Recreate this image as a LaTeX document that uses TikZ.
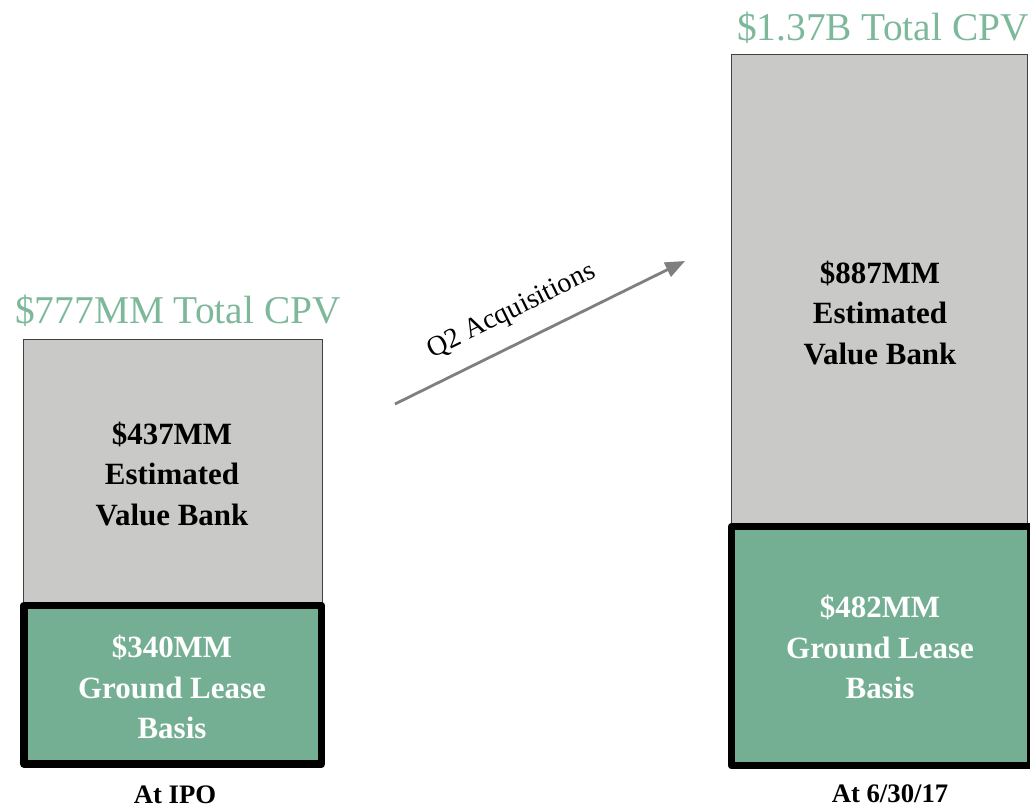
\documentclass[tikz,border=0pt]{standalone}
\usepackage{fontspec}
\setmainfont{Liberation Serif}
\usetikzlibrary{arrows.meta}

\definecolor{cpvgreen}{HTML}{7DB89B}
\definecolor{basisgreen}{HTML}{74AF93}
\definecolor{bankgray}{HTML}{C9C9C7}
\definecolor{arrowgray}{HTML}{7F7F7F}

\tikzset{
  bank/.style={draw=black!75, line width=0.6pt, fill=bankgray, inner sep=0pt},
  basis/.style={draw=black, line width=5.3pt, fill=basisgreen, inner sep=0pt, line join=round},
  total/.style={text=cpvgreen, anchor=base, font=\fontsize{28}{34}\selectfont},
  barlabel/.style={align=center, font=\bfseries\fontsize{22}{29}\selectfont},
  datelabel/.style={anchor=base, font=\bfseries\fontsize{19}{23}\selectfont},
}

\begin{document}
\begin{tikzpicture}[x=0.025cm, y=-0.025cm, >={Triangle[length=14pt, width=11pt]}]
    \useasboundingbox (0,0) rectangle (1030,810);

    % At IPO
    \node[bank, minimum width=7.475cm, minimum height=6.65cm] (bank1) at (172.5, 472) {};
    \node[basis, minimum width=7.44cm, minimum height=3.96cm] (basis1) at (172.75, 684.75) {};
    \node[total] (total1) at (178, 323) {\$777MM Total CPV};
    \node[barlabel] (banktext1) at (172, 474) {\$437MM\\Estimated\\Value Bank};
    \node[barlabel, text=white] (basistext1) at (172, 687) {\$340MM\\Ground Lease\\Basis};
    \node[datelabel] (date1) at (175, 803) {At IPO};

    % At 6/30/17
    \node[bank, minimum width=7.4cm, minimum height=11.775cm] (bank2) at (879, 289.5) {};
    \node[basis, minimum width=7.475cm, minimum height=5.975cm] (basis2) at (881, 646) {};
    \node[total] (total2) at (883, 40) {\$1.37B Total CPV};
    \node[barlabel] (banktext2) at (880, 313) {\$887MM\\Estimated\\Value Bank};
    \node[barlabel, text=white] (basistext2) at (880, 647) {\$482MM\\Ground Lease\\Basis};
    \node[datelabel] (date2) at (890, 802) {At 6/30/17};

    % acquisitions
    \coordinate (acqstart) at (395, 404);
    \coordinate (acqend) at (685, 261);
    \draw[->, arrowgray, line width=2pt] (acqstart) -- (acqend)
        node[pos=0.45, sloped, above=9pt, text=black, font=\fontsize{20}{24}\selectfont] (acqlabel) {Q2 Acquisitions};
\end{tikzpicture}
\end{document}
